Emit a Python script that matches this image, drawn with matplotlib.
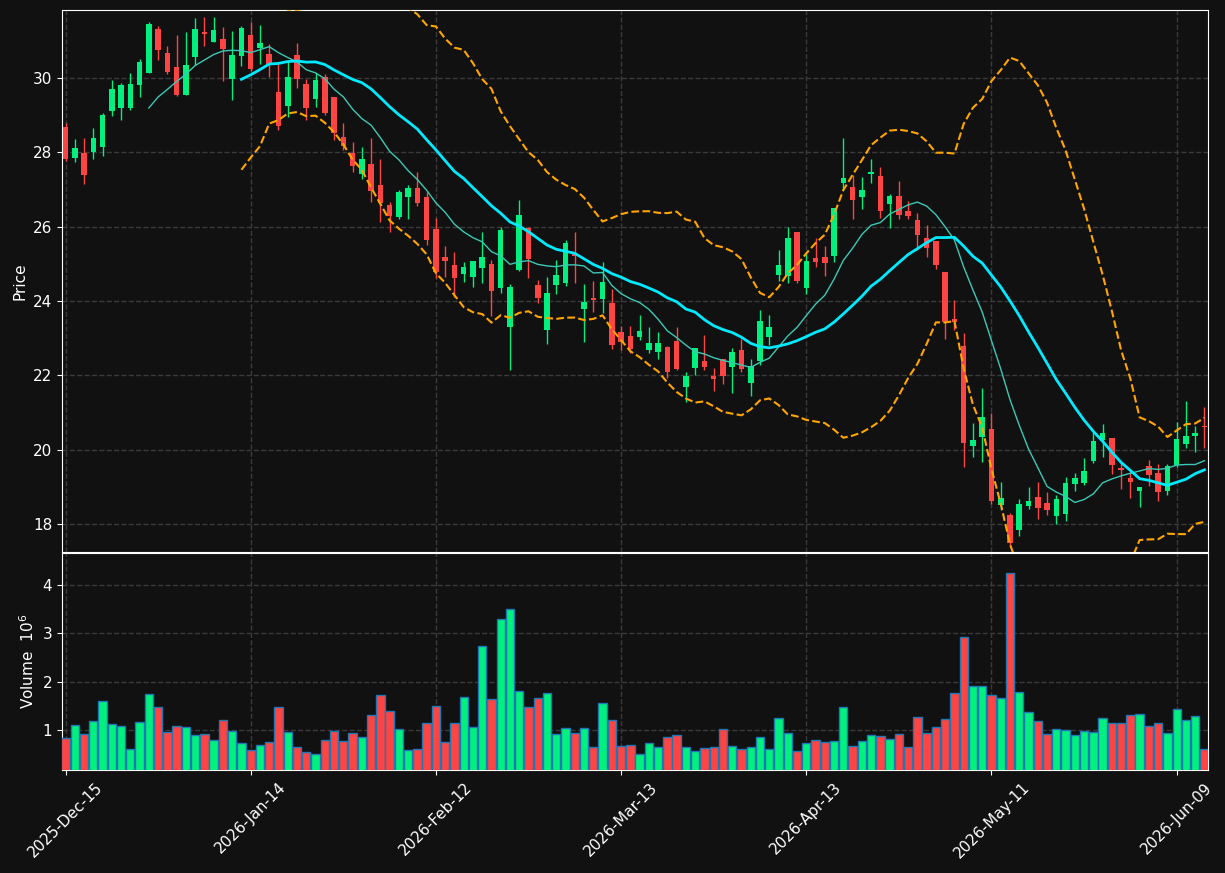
import numpy as np
import pandas as pd
import matplotlib
matplotlib.use("Agg")
import matplotlib.pyplot as plt

# daily OHLC (NYSE trading days)
opens = [28.68, 27.86, 27.98, 28.02, 28.15, 29.12, 29.20, 29.20, 29.82, 30.14,
         31.32, 30.67, 30.30, 29.55, 30.57, 31.24, 30.98, 31.05, 29.98, 30.60,
         31.16, 30.82, 30.65, 29.62, 29.25, 30.62, 29.84, 29.44, 30.02, 29.49,
         28.41, 27.98, 27.43, 27.70, 27.12, 26.58, 26.27, 26.79, 27.03, 26.79,
         25.93, 25.18, 24.96, 24.74, 24.65, 24.90, 25.00, 24.36, 23.31, 24.84,
         25.96, 24.42, 23.23, 24.44, 24.49, 25.27, 23.79, 24.08, 24.06, 23.95,
         23.16, 23.06, 23.04, 22.69, 22.64, 22.76, 22.92, 21.70, 22.21, 22.39,
         21.98, 22.44, 22.23, 22.68, 21.80, 22.39, 23.04, 24.70, 24.68, 25.85,
         24.36, 25.16, 25.18, 25.22, 27.17, 27.07, 26.81, 27.43, 27.36, 26.62,
         26.83, 26.42, 26.18, 25.70, 25.61, 24.78, 23.52, 22.79, 20.11, 20.35,
         20.56, 18.52, 18.24, 17.84, 18.49, 18.73, 18.57, 18.22, 18.28, 19.09,
         19.11, 19.70, 20.26, 20.31, 19.52, 19.24, 18.90, 19.56, 19.37, 18.89,
         19.59, 20.16, 20.37, 20.63]
highs = [28.79, 28.35, 28.40, 28.67, 29.05, 29.96, 29.88, 30.13, 30.50, 31.50,
         31.39, 30.85, 31.15, 31.23, 31.61, 31.63, 31.65, 31.38, 31.26, 31.40,
         31.50, 31.42, 30.91, 30.40, 30.48, 30.93, 29.97, 30.13, 30.10, 29.49,
         28.78, 28.27, 28.15, 28.38, 27.81, 26.66, 27.00, 27.11, 27.46, 26.94,
         26.23, 25.49, 25.33, 25.06, 25.08, 25.85, 25.10, 26.00, 24.45, 26.71,
         26.00, 24.58, 24.64, 25.10, 25.64, 25.85, 24.45, 24.53, 25.04, 24.33,
         23.32, 23.32, 23.62, 23.29, 23.16, 22.80, 23.29, 22.10, 22.73, 23.08,
         22.19, 22.44, 22.74, 22.98, 22.43, 23.75, 23.62, 25.37, 26.00, 25.85,
         25.28, 25.71, 25.48, 26.50, 28.40, 27.39, 27.35, 27.83, 27.60, 26.88,
         27.22, 26.68, 26.36, 26.06, 25.61, 24.78, 24.02, 23.13, 20.71, 21.65,
         21.00, 19.14, 18.29, 18.67, 19.00, 19.12, 18.87, 18.78, 19.26, 19.37,
         19.77, 20.48, 20.69, 20.31, 19.65, 19.39, 19.00, 19.72, 19.62, 19.63,
         20.75, 21.30, 20.65, 21.16]
lows = [27.78, 27.73, 27.14, 27.81, 27.90, 28.97, 28.88, 29.15, 29.48, 30.14,
        30.48, 30.12, 29.52, 29.55, 30.35, 30.85, 30.98, 29.93, 29.42, 30.33,
        30.20, 30.37, 30.04, 28.59, 28.94, 29.72, 28.86, 29.21, 29.00, 28.33,
        28.06, 27.46, 27.29, 26.66, 26.12, 25.85, 26.20, 26.20, 26.55, 25.51,
        24.61, 24.65, 24.12, 24.52, 24.37, 24.48, 23.61, 24.21, 22.14, 24.82,
        24.61, 23.94, 22.84, 24.18, 24.40, 24.48, 22.89, 23.71, 23.68, 22.70,
        22.68, 22.61, 22.94, 22.60, 22.43, 21.92, 22.15, 21.28, 22.00, 22.14,
        21.57, 21.76, 21.54, 22.10, 21.44, 22.27, 22.82, 24.54, 24.50, 24.48,
        24.19, 24.91, 24.68, 25.04, 26.99, 26.20, 26.47, 27.18, 26.23, 25.96,
        26.21, 26.20, 25.37, 25.18, 24.85, 22.97, 23.22, 19.53, 19.80, 19.66,
        18.55, 18.38, 17.40, 17.68, 18.40, 18.13, 18.24, 18.00, 18.09, 18.90,
        19.05, 19.65, 19.80, 19.34, 18.94, 18.69, 18.47, 19.03, 18.63, 18.79,
        19.55, 20.04, 19.93, 20.04]
closes = [27.82, 28.12, 27.40, 28.39, 29.00, 29.70, 29.81, 29.84, 30.43, 31.45,
          30.76, 30.16, 29.55, 30.35, 31.32, 31.18, 31.29, 30.79, 30.62, 31.35,
          30.24, 30.94, 30.38, 28.72, 30.02, 29.98, 29.20, 29.95, 29.05, 28.53,
          28.18, 27.64, 27.82, 26.97, 26.65, 26.30, 26.93, 27.03, 26.65, 25.65,
          24.79, 25.09, 24.63, 24.91, 25.08, 25.18, 24.28, 25.90, 24.38, 26.31,
          25.13, 24.09, 24.21, 24.69, 25.55, 25.22, 23.97, 24.02, 24.51, 22.83,
          22.91, 22.72, 23.19, 22.87, 22.87, 22.10, 22.17, 21.98, 22.73, 22.23,
          21.91, 21.99, 22.62, 22.18, 22.25, 23.46, 23.30, 24.97, 25.70, 24.55,
          25.08, 25.06, 25.03, 26.50, 27.30, 26.73, 27.00, 27.45, 26.43, 26.83,
          26.32, 26.29, 25.78, 25.43, 24.98, 23.45, 23.45, 20.19, 20.26, 20.88,
          18.63, 18.70, 17.50, 18.54, 18.62, 18.44, 18.39, 18.67, 19.10, 19.24,
          19.42, 20.23, 20.45, 19.59, 19.46, 19.14, 19.00, 19.32, 18.86, 19.56,
          20.29, 20.37, 20.45, 20.61]
# volume in millions
volumes = [0.83, 1.10, 0.92, 1.19, 1.60, 1.13, 1.08, 0.60, 1.17, 1.75,
           1.47, 0.96, 1.08, 1.06, 0.90, 0.92, 0.79, 1.21, 0.98, 0.73,
           0.58, 0.69, 0.75, 1.48, 0.96, 0.65, 0.54, 0.50, 0.79, 0.98,
           0.77, 0.94, 0.85, 1.31, 1.73, 1.40, 1.02, 0.58, 0.60, 1.15,
           1.50, 0.75, 1.15, 1.69, 1.06, 2.75, 1.65, 3.31, 3.50, 1.81,
           1.48, 1.67, 1.77, 0.92, 1.04, 0.94, 1.04, 0.65, 1.56, 1.21,
           0.67, 0.69, 0.50, 0.73, 0.65, 0.85, 0.90, 0.65, 0.56, 0.63,
           0.65, 1.02, 0.67, 0.60, 0.65, 0.85, 0.60, 1.25, 0.94, 0.56,
           0.73, 0.79, 0.75, 0.77, 1.48, 0.67, 0.77, 0.90, 0.88, 0.81,
           0.92, 0.65, 1.27, 0.94, 1.06, 1.23, 1.77, 2.92, 1.92, 1.92,
           1.73, 1.67, 4.25, 1.79, 1.38, 1.19, 0.92, 1.02, 1.00, 0.90,
           0.98, 0.96, 1.25, 1.15, 1.15, 1.31, 1.33, 1.08, 1.15, 0.94,
           1.44, 1.21, 1.29, 0.60]

holidays = ["2025-12-25", "2026-01-01", "2026-01-19", "2026-02-16",
            "2026-04-03", "2026-05-25"]
dates = pd.bdate_range("2025-12-15", "2026-06-12", freq="C", holidays=holidays)

df = pd.DataFrame({"Open": opens, "High": highs, "Low": lows,
                   "Close": closes, "Volume": volumes}, index=dates)

up_col = "#00f080"
dn_col = "#ff4444"
bg = "#111111"

x = np.arange(len(df))
o = df["Open"].values
c = df["Close"].values
colors = np.where(c >= o, up_col, dn_col)

ma10 = df["Close"].rolling(10).mean()
ma20 = df["Close"].rolling(20).mean()
sd20 = df["Close"].rolling(20).std(ddof=0)
bb_up = ma20 + 2 * sd20
bb_lo = ma20 - 2 * sd20

fig = plt.figure(figsize=(12.25, 8.73), dpi=100, facecolor=bg)
ax = fig.add_axes([0.0506, 0.3677, 0.9355, 0.6208], facecolor=bg)
axv = fig.add_axes([0.0506, 0.118, 0.9355, 0.2486], facecolor=bg, sharex=ax)

# candles
ax.vlines(x, df["Low"], df["High"], colors=colors, linewidth=1.0, zorder=3)
body_h = np.abs(c - o)
body_h = np.where(body_h < 0.03, 0.03, body_h)
ax.bar(x, body_h, bottom=np.minimum(o, c), width=0.6, color=colors,
       linewidth=0, zorder=4)

ax.plot(x, ma10, color="#3cc8b4", linewidth=1.0, zorder=5)
ax.plot(x, ma20, color="#00eaff", linewidth=2.0, zorder=5)
ax.plot(x, bb_up, color="#ffa500", linestyle="--", linewidth=1.5, zorder=5)
ax.plot(x, bb_lo, color="#ffa500", linestyle="--", linewidth=1.5, zorder=5)

# volume
axv.bar(x, df["Volume"], width=0.9, color=colors, edgecolor="#1f77b4",
        linewidth=1.0, zorder=3)

ax.set_xlim(-0.38, len(df) - 0.62)
ax.set_ylim(17.25, 31.83)
axv.set_ylim(0.17, 4.67)
ax.set_yticks(np.arange(18, 31, 2))
axv.set_yticks([1, 2, 3, 4])

tick_pos = np.arange(0, len(df), 20)
axv.set_xticks(tick_pos)
axv.set_xticklabels([dates[i].strftime("%Y-%b-%d") for i in tick_pos],
                    rotation=45)
plt.setp(ax.get_xticklabels(), visible=False)

for a in (ax, axv):
    a.grid(True, color="#3a3a3a", linestyle="--", linewidth=1.0, zorder=0)
    a.set_axisbelow(True)
    for s in a.spines.values():
        s.set_color("white")
    a.tick_params(colors="white", labelsize=11)

ax.set_ylabel("Price", color="white", fontsize=11)
axv.set_ylabel("Volume  $10^{6}$", color="white", fontsize=11)

fig.savefig("out.png", dpi=100, facecolor=bg)
